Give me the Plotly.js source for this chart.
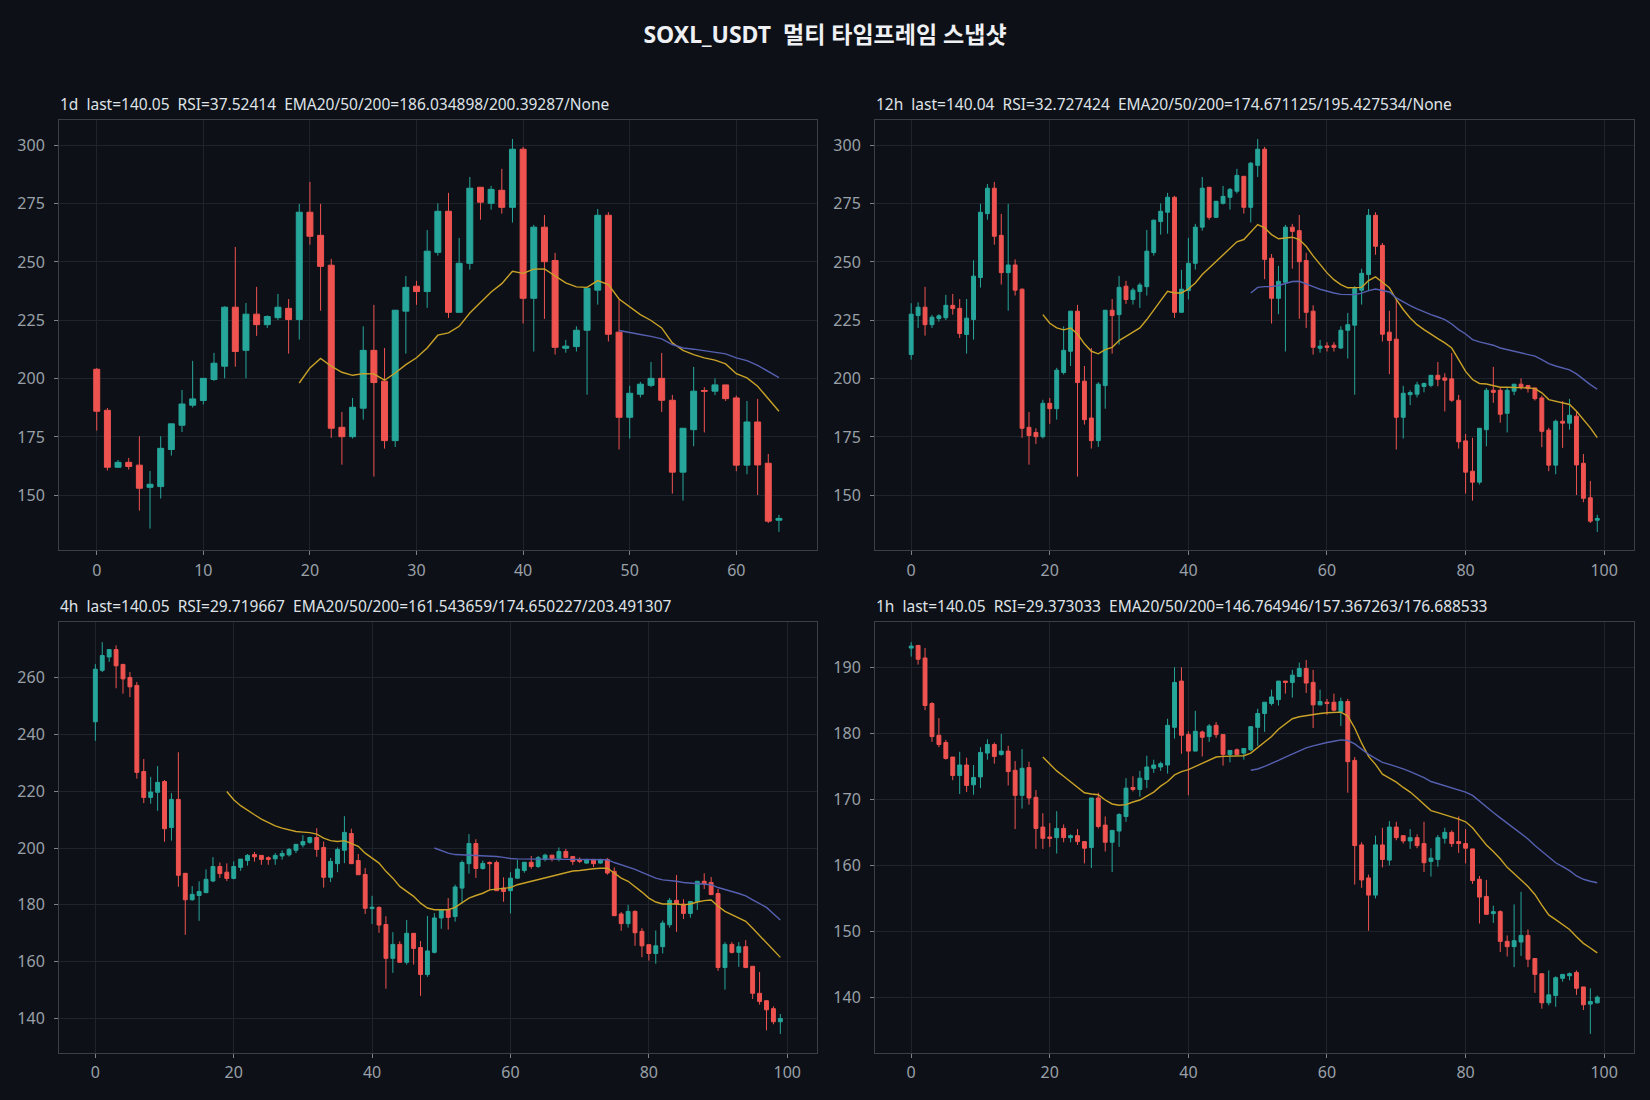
<!DOCTYPE html>
<html>
<head>
<meta charset="utf-8">
<script src="https://cdn.plot.ly/plotly-3.0.1.min.js"></script>
<style>
html,body{margin:0;padding:0;background:#0d1017;}
#chart{width:1650px;height:1100px;}
</style>
</head>
<body>
<div id="chart"></div>
<script>
// ---------------- DATA ----------------
const chartTitle = "SOXL_USDT  멀티 타임프레임 스냅샷";
const panelTitles = [
  "1d  last=140.05  RSI=37.52414  EMA20/50/200=186.034898/200.39287/None",
  "12h  last=140.04  RSI=32.727424  EMA20/50/200=174.671125/195.427534/None",
  "4h  last=140.05  RSI=29.719667  EMA20/50/200=161.543659/174.650227/203.491307",
  "1h  last=140.05  RSI=29.373033  EMA20/50/200=146.764946/157.367263/176.688533"
];
const ema20Start = 19;
const ema50Start = 49;

// 1d
const d1_open = [204,186.4,162,164.1,162.9,153.4,153.7,169.6,180,188.6,190.6,199.6,205.3,230.6,212.1,227.6,223.1,226.1,230.1,225.3,271.3,261.4,248.6,179.1,175.1,187.3,212.1,198.9,173.4,228.9,239.6,237.3,254.1,271.7,228.4,249.4,282,275.1,280.7,273.4,298.3,234.4,264.9,250.6,213.0,213.7,220.7,237.9,270,219.9,183.4,193.3,197.1,200.1,190.7,159.9,178.1,194.9,194.6,197.3,191.7,162.9,181.4,163.7,139.3];
const d1_high = [204.5,187.4,165.1,166,175.3,160.4,175.3,180.6,195.1,207.6,200.1,211,231,256.4,232.4,239.3,227.1,236.3,234.1,274.9,284.3,274.9,251.3,185.7,191.7,222.4,231.6,213.1,229.3,244,241.9,263.7,275.1,279.6,260.3,286.4,282,282.6,289.9,302.7,299.3,265.9,270.1,253.9,216.6,222.4,238.7,272.7,271.3,233.9,196.9,198.6,207.1,211,193,178.7,205,196.3,200.1,197.3,192.7,190.4,191.3,167.7,141.6];
const d1_low = [177.7,160.6,161.7,161,143.4,135.7,148.6,167,177.1,187.6,188.9,199,200.1,205.1,200.1,218.3,221.7,225.1,210.7,216.7,257.4,229.1,174.6,163.1,174.3,182.4,158,170,170.7,210.7,231.6,230.3,252.7,226,228.4,246.7,268.1,272.4,270.7,266.9,223.6,211.6,225.6,210.3,211.1,211.6,193.1,231.7,215.9,169.6,174.3,191.9,196.3,185.7,150.7,147.7,171,176.9,192.9,190.4,160.3,159,150.1,138.1,134.3];
const d1_close = [186,162,164.1,162.3,153,154.7,170.1,180.6,189.1,191.3,200.1,206.6,230.6,211.6,227.6,223.1,226.6,230.6,225.3,271.3,261,248.1,178.7,175.1,187.7,212.1,198.3,173.4,229.3,239.1,237.3,254.6,271.7,228.4,249.4,281.6,275.6,281.1,273.4,298.3,234.4,264.9,250.1,213.4,213.9,220.7,238.7,270,219,183.4,193.7,197.6,200.1,190.7,159.9,178.7,194.6,194.6,197.3,191.4,162.9,181.4,163,138.9,140.05];
const d1_ema20 = [198.1,204.6,208.6,205.3,202.7,201.4,202.1,202,199.3,202.4,206,208.9,213.1,218.6,219.6,222.4,228.1,232.4,237.1,240.7,246,245.1,246.9,247,243.9,241,239.3,239.1,242,240.3,234.1,230.6,227.4,224.9,221.7,215.3,212.1,210.3,208.9,207.9,206.3,202.1,200.3,196.7,191.3,186.03];
const d1_ema50 = [220.6,219.6,218.9,218.1,217,214.6,213.1,212.6,212,211.4,210.6,208.9,207.7,205.7,203.1,200.39];

// 12h
const h12_open = [210.3,227,230.6,223.1,225.7,226.1,231.4,230.1,218.9,225.3,243.3,270.7,281.6,261.4,245.4,248.7,238.3,179.1,176.9,175.1,189.4,187.1,202.6,211.7,228.9,198.9,183.1,173.4,197,229.3,227.4,239.6,233.9,237.3,239.4,254,267.3,271.3,277.7,228.4,237.7,249.4,264.9,282,269.1,275.1,277.7,280.3,286.7,273.4,291.4,298.3,251.6,234.4,241.3,264.9,263.4,250.6,228.9,213,214,214.3,213.1,220.7,222.9,237.9,244.6,270,257.1,219.9,216.9,183.4,193.1,193.3,196.6,197.1,201.4,200.3,199.9,190.7,173.3,160.3,155.6,178.1,195,195,185.1,194.6,197.6,197,196,191.7,177.9,162.9,181.7,180.9,183.9,163.7,148.9,139.3];
const h12_high = [232.3,232.7,239.3,227.3,227.6,235.9,236.3,234.1,234.1,250.7,274.9,283.4,284.3,270.6,274.9,251.1,238.7,185.7,178.7,190.9,191.7,204.6,222.4,228.9,231.6,205.4,213.1,198.4,229.3,234.1,244,241.9,238.9,241.1,263.7,268.1,275.1,279.6,278.3,246.6,260.3,266.3,286.4,282,276,282.6,281.7,289.9,286.7,292.9,302.7,299.3,253.4,248.3,265.9,266.3,270.1,253.9,231.4,216.6,215.6,215.6,222.4,228.1,239.6,247.1,272.7,271.3,258.1,229.1,233.9,196.9,195,198.6,198.3,201.4,207.1,202.3,211,193,176.3,174.6,178.7,196,205,196,196,197.6,200.1,197.3,196,192.7,178.9,182.4,190.4,191.3,186,167.7,156.1,141.6];
const h12_low = [208.1,221.7,218.4,221.7,224.4,225.1,227.4,217.4,210.7,216.7,239,268.1,257.4,240.3,229.1,235.6,174.6,163.1,172,174.3,180.6,182.4,201.7,205.4,158,180.3,170,170.7,187.1,210.7,214.6,232,231.7,230.3,235.6,252.7,261.7,262.1,226,228.4,233.9,246.7,263.4,268.1,268.9,274.6,272.4,279.3,270.7,266.9,286.4,242.6,223.6,227.6,211.6,247.1,225.6,221.7,210.3,211.1,211.6,211.6,212.7,208.6,193.1,231.7,237.4,253.1,215.9,201.9,169.6,174.3,188.6,191.9,194.1,196.3,196.7,185.9,190,170,150.7,147.7,154.6,171,189.6,181.1,176.9,192.9,195.3,194,190.6,170.6,160.3,159,170.3,178.1,150.1,147,138.1,134.3];
const h12_close = [227.6,230.6,223.1,226.3,226.9,231.4,230,219.3,225.9,243.9,271.3,281.6,261,245.4,248.7,237.9,178.7,175.6,175.1,189.4,187.1,203.6,212.1,228.9,198.3,182.4,173.4,197.6,229.3,227,239.1,233.9,237.9,240.1,254.6,267.9,271.7,277.7,228.4,238.3,249.4,264.9,281.6,269.1,276,278.1,281.1,287.1,273.4,292.3,298.3,251.1,234.4,241.7,264.9,263.1,250.1,228.4,213.4,213.9,213.4,213.4,220.7,223.1,238.7,245.1,270,256.7,219,216.3,183.4,193.7,194,197.3,197.9,201.4,199.7,199.3,190.7,172.9,159.9,155.6,178.7,195,194.1,184.7,195,197.6,196.4,195.7,191.4,177.4,162.9,181.7,180.9,184.3,163,148.7,138.9,140.04];
const h12_ema20 = [227.4,223.7,221.7,220.9,221.7,219.1,214.9,211.7,210.6,212.4,213.4,216.3,218.1,219.9,221.7,225.3,229.6,233.4,237.4,236.7,236.7,238.4,241,244.6,247.4,250.3,253.1,256,258.6,259.6,262.9,266,264.6,261.7,259.9,260.3,260.6,259.6,256.7,252.6,248.9,245.3,242.4,240.3,238.9,238.9,239.1,242,243.6,241.3,238.9,233.9,229.6,226,223.1,221,218.9,217.1,215.3,213.1,208.1,203.1,199.6,197.9,197.7,197.1,196.3,196.3,196.3,196.3,196,195.7,193.9,191,190.3,189.6,188.9,186,182.4,178.9,174.67];
const h12_ema50 = [236.7,239.1,239.4,239.4,239.9,240.9,241.6,241.7,240.7,239.4,238.3,237.4,236.7,236.1,235.9,236,236.6,237.7,238.4,237.8,237.1,234.6,232.9,231.3,229.9,228.6,227.4,226.4,225.3,223.4,221,219.1,216.7,215.7,215,214.3,213.1,212.4,211.9,211.3,210.6,209.6,208.1,206.4,205.4,204.6,203.7,202,199.6,197.4,195.43];

// 4h
const h4_open = [244.4,262.5,267.2,269.8,264.6,260,257.2,226.9,217.8,219.6,223.4,207.2,217.1,191.1,181.8,183.3,184.3,188.4,193.5,191.5,189.3,193.2,195.6,197.7,197.4,196.6,196.2,197.2,197.6,199.2,201.1,202,203.7,200.2,189.7,194.5,199.2,205.1,195.6,190.7,178.7,179.1,173.1,161.2,166.1,159.8,170,165,155.5,163.3,175.4,178.3,175.9,185.9,194.5,201.6,192.8,194.9,194.9,185.9,185,189.4,192.1,195,193.5,196,197.5,196.2,198.8,197,196,194.7,196,194.7,196,191.8,176.8,173.4,177.7,170.7,166,162.9,165.3,173,181.6,180.3,177,181.2,188.3,187.9,184,158,166.1,163.3,165.3,158.4,148.9,146.3,143.5,138.9];
const h4_high = [264.7,272.4,269.8,271.3,264.6,261.9,258.4,231.3,225,228.8,223.9,219.3,233.7,191.1,186.6,188.3,192.5,196.8,194.9,194.6,195.3,196.1,197.9,198.6,197.4,197.1,198.2,199.2,200,201.3,204.5,204,207,202.3,196.5,200.2,211.2,206.8,197.9,193,183.2,179.5,176,170.4,167.2,174.7,170,167.3,176.1,177.1,178.3,182.4,187.1,195.6,204.9,203.1,195.6,195.3,195.6,189.7,191.5,195.9,195,197.2,197.2,198,197.5,200.2,199.7,197,196.7,196.2,196,196.2,196.5,193.2,177.5,180,178.1,171.8,166,171,174.5,182.4,190.5,182,181.2,188.3,191.1,189.8,185.6,166.9,166.9,166.9,167.6,158.4,156.4,146.3,144.3,141.6];
const h4_low = [237.7,261.9,265.5,256.2,254.3,253.1,224.4,215.8,215.6,213.1,202.2,202.6,186.4,169.5,181.5,174.4,184.3,188,189.5,188.4,189,192,193.8,195.2,194.1,194.1,194.1,195.9,197,198.2,200.2,201.5,196.9,186.1,188,191.5,194.7,194.5,190.6,176.8,173.3,170.2,150.5,156.1,159.8,159,159,148,154.7,162.9,171.6,171.3,174.1,180.6,191,189.5,192.4,185.3,185,181.1,177,189.2,191.3,192.7,193,195.3,195.3,195.3,196.7,194.1,194.7,194.5,193.3,194.5,190.6,176.2,170.9,172,165.6,161.6,160.4,159.3,162.9,172,170.5,175,175.5,178.2,185.6,183.6,156.8,150.2,162.9,158.2,157.7,146.9,144.9,135.9,138,134.6];
const h4_close = [262.9,267.7,269.8,264.1,259.5,256.7,226.6,217.8,219.7,223.1,206.8,217.1,190.4,181.8,183.7,184.7,189,193.5,191,189.3,193.5,196.1,197.4,196.9,196,196,197.4,198.1,199.5,201.3,202.3,203.7,199.5,189.7,195.3,199.5,205.5,194.5,190.6,178.8,179.2,172.9,161.2,166.1,159.8,170,164.7,155.5,163.8,175.4,178.3,175.6,186.3,194.9,201.6,192.8,194.6,194.5,185,184.7,189.4,192.6,195,193.5,196.6,197.5,196.2,198.8,196.7,195.3,195.3,196,194.5,196,191.2,176.2,173.4,177.7,170.2,165.6,162.9,165.6,173.6,181.6,180.3,177,181.2,188.3,187.5,183.6,158,166.1,163.3,165.3,158,148.9,146,143.1,138.9,140.05];
const h4_ema20 = [219.9,217,214.9,213.2,211.7,210.2,208.9,207.8,207,206.3,205.8,205.6,205.4,204.9,203.5,202.6,202.3,202.6,201.6,200.6,198.2,196.5,194.7,191.8,189.4,186.5,184.7,183,180.6,178.9,178.3,178.2,178.3,179.1,180.6,182.4,183.3,184.1,185.3,185.6,185.9,186.1,187.1,187.7,188.3,189.1,189.7,190.2,190.9,191.5,191.9,192.1,192.5,192.7,192.9,192.9,191.2,189.4,188.3,186.5,184.5,182.4,181,180.3,180.3,180.3,180,180.3,181,181.5,181.7,179.5,177.7,176.5,175.4,174.2,171.8,169.3,166.6,164.1,161.54];
const h4_ema50 = [200,199.2,198.2,197.7,197.6,197.6,197.5,197.4,197.3,197,196.7,196.3,196.2,196.1,196.1,196.1,196.1,196.1,196.1,196.1,196.1,196,196,196,196,195.9,194.9,194.1,193.4,192.5,191.4,190.4,189.4,188.8,188.6,188.3,187.9,187.7,187.7,187.4,187.1,186.1,185.3,184.7,184,183.2,181.8,180.4,179.1,176.9,174.65];

// 1h
const h1_open = [192.9,193.3,191.4,184.5,179.7,178.6,176.4,173.6,175.2,172.2,173.4,177,178.3,176.8,177.3,174.4,170.6,174.8,170.3,165.8,164.3,164.2,165.6,164.2,164.5,163.6,162.7,170.2,166.1,163.5,165.2,167.4,171.8,171.5,173,174.7,174.9,175.2,180.9,187.9,179.8,177.3,180.2,179.5,181.2,179.8,176.8,177.5,177,177.5,180.9,183,184.5,185.1,187.9,187.7,188.6,189.8,187.7,184.3,184.7,184.7,183.3,184.8,175.9,163.1,158.1,155.5,163.1,160.8,165.8,164.5,163.7,164.2,163.3,160.6,160.9,164.1,165,163.6,163.3,162.5,157.9,155.3,152.7,153,148.5,147.7,148.4,149.4,145.9,143.6,139.2,140.3,142.9,143.3,143.8,141.6,139,139.2];
const h1_high = [193.8,193.3,192.9,184.7,182.3,179,176.4,177.2,176.3,175.2,177.9,179.1,178.6,179.9,178.1,175.8,177.6,175.7,171.4,167.9,166.4,168.2,166.2,164.7,165.5,163.6,170.2,171,167.4,165.3,167.9,173.2,173.5,174.3,176.6,176,175.7,182.2,190,190,180.3,183.4,180.4,181.4,181.7,179.8,177.4,177.7,177.7,181,183.7,184.7,186.6,187.9,187.9,189.6,190.7,191.1,189.6,186.6,185.2,186,185.4,185.2,176.4,163.5,158.6,164.5,165.7,166.7,166.6,164.5,165.5,164.7,166.6,162.6,164.6,165.7,165.3,167.4,165.5,162.5,158.4,157.8,153.9,153.2,149.4,154.1,156,150.3,145.9,143.6,144.1,143.2,143.5,143.8,144.1,141.6,141.4,140.3];
const h1_low = [191.6,190.4,183.5,178.7,177.9,176,172.9,170.8,171.1,170.7,171.7,176,175.4,176.6,172.1,165.5,168.6,169.2,162.5,162.5,162.8,161.8,163.5,163.5,163.1,160.3,159.6,165.6,162.1,159,162.8,166.6,171.2,170.4,171.7,174,174.3,173.9,179.2,176.9,170.6,177.3,176.5,178.7,179.3,175.1,175.6,176.7,176,177.3,178.1,180.2,184.2,184.2,186,185.4,188.5,186.1,180.8,184.2,182.8,183.3,181.1,171,157.1,156.6,150.1,155,159.7,160,163.8,163.3,162.5,162.6,159,158.3,159.8,163.3,162.8,161.9,160.3,157.2,151.2,152.5,151.3,146.9,146.2,144.6,146.3,144.6,140.7,138.3,138.8,138.6,142.4,142.6,140.4,138.1,134.5,139.1];
const h1_close = [193.2,191.2,184.2,179.5,178.3,176.2,173.6,175.2,172.1,173.3,177.1,178.3,176.5,177.3,174.2,170.6,174.7,170.2,165.6,164.1,164.1,165.6,164.2,164.5,163.6,162.6,170.2,165.9,163.5,165.3,167.7,171.7,171.5,173.2,174.9,175.2,175.4,181.2,187.7,179.7,177.3,180.3,179.4,181.1,179.8,176.8,177.4,176.8,177.7,181,183,184.7,185.5,187.9,187.7,188.8,189.8,187.6,184.3,184.8,184.5,183.5,184.8,175.7,163,157.8,155.5,163.1,160.9,165.8,164.2,163.7,164.2,163,160.4,161.1,164.2,165,163.3,163.3,162.6,157.7,155.2,152.6,153,148.5,147.7,148.6,149.4,145.8,143.5,139.2,140.4,143,143.5,143.6,141.4,138.9,139.4,140.05];
const h1_ema20 = [176.4,175.3,174.3,173.5,172.7,171.9,171,170.8,170.7,169.9,169.3,169.1,169.2,169.6,169.9,170.5,171.1,172,172.7,173.7,174.2,174.5,175,175.5,176,176.4,176.5,176.5,176.6,176.6,177,177.8,178.6,179.5,180.6,181.4,182.2,182.5,182.7,182.8,183,183.1,183.1,183.2,182.6,180.8,178.5,176.5,175.3,173.8,173.2,172.6,171.8,171.1,170.2,169.2,168.3,168,167.7,167.3,167,166.6,165.7,164.4,163.1,162.1,161,159.7,158.8,157.8,156.8,155.6,154,152.5,151.8,151,150.3,149.2,148.2,147.5,146.76];
const h1_ema50 = [174.4,174.6,175,175.4,175.9,176.4,176.9,177.4,177.8,178.1,178.4,178.6,178.8,179,178.9,178.4,177.6,176.8,176.2,175.6,175.3,175,174.6,174.2,173.8,173.3,172.7,172.4,172.1,171.8,171.5,171.1,170.6,169.7,168.8,168,167.2,166.4,165.7,164.9,164,163,162.1,161.2,160.4,159.8,159.2,158.4,157.9,157.6,157.37];

// tick values per panel
const ticksY = [[150,175,200,225,250,275,300],[150,175,200,225,250,275,300],[140,160,180,200,220,240,260],[140,150,160,170,180,190]];
const ticksX = [[0,10,20,30,40,50,60],[0,20,40,60,80,100],[0,20,40,60,80,100],[0,20,40,60,80,100]];

// ---------------- STYLE ----------------
const BG = '#0d1017';
const GRID = '#1f232b';
const FRAME = '#3a3f48';
const TICKC = '#9aa0a8';
const UP = '#26a69a';
const DOWN = '#ef5350';
const EMA20C = '#c9a227';
const EMA50C = '#5560b0';
const FONT = '"Noto Sans", "Noto Sans CJK KR", sans-serif';

const panels = [
  {o:d1_open,h:d1_high,l:d1_low,c:d1_close,e20:d1_ema20,e50:d1_ema50, xr:[-3.54,67.57], yr:[126.4,310.7]},
  {o:h12_open,h:h12_high,l:h12_low,c:h12_close,e20:h12_ema20,e50:h12_ema50, xr:[-5.22,104.3], yr:[126.4,310.7]},
  {o:h4_open,h:h4_high,l:h4_low,c:h4_close,e20:h4_ema20,e50:h4_ema50, xr:[-5.25,104.3], yr:[127.9,279.4]},
  {o:h1_open,h:h1_high,l:h1_low,c:h1_close,e20:h1_ema20,e50:h1_ema50, xr:[-5.22,104.3], yr:[131.6,196.8]}
];

const W = 1650, H = 1100;
const xDom = [[59/W, 817/W],[875/W, 1634/W],[59/W, 817/W],[875/W, 1634/W]];
const yDom = [[(H-550.3)/H,(H-120.3)/H],[(H-550.3)/H,(H-120.3)/H],[(H-1053)/H,(H-622.3)/H],[(H-1053)/H,(H-622.3)/H]];
const titleY = [(H-104)/H,(H-104)/H,(H-606)/H,(H-606)/H];

const traces = [];
const layout = {
  width: W, height: H,
  paper_bgcolor: BG, plot_bgcolor: BG,
  margin: {l:0,r:0,t:0,b:0},
  showlegend: false,
  boxgap: 0.2,
  font: {family: FONT, color: TICKC, size: 14},
  title: {text: '<b>' + chartTitle.replace(/  /g,' \u00a0') + '</b>', x: 0.5, xanchor: 'center', y: 1 - 35/H, yanchor: 'middle', font: {family: FONT, size: 23, color: '#eef0f3'}},
  annotations: []
};

function idx(n, start){ const a=[]; for(let i=0;i<n;i++) a.push(start+i); return a; }

panels.forEach((p, k) => {
  const xa = k===0 ? 'x' : 'x'+(k+1);
  const ya = k===0 ? 'y' : 'y'+(k+1);
  traces.push({
    type: 'candlestick', xaxis: xa, yaxis: ya,
    x: idx(p.o.length, 0), open: p.o, high: p.h, low: p.l, close: p.c,
    increasing: {line: {color: UP, width: 1}, fillcolor: UP},
    decreasing: {line: {color: DOWN, width: 1}, fillcolor: DOWN},
    whiskerwidth: 0, hoverinfo: 'skip'
  });
  traces.push({type:'scatter', mode:'lines', xaxis: xa, yaxis: ya, x: idx(p.e20.length, ema20Start), y: p.e20, line:{color:EMA20C, width:1.4}, hoverinfo:'skip'});
  traces.push({type:'scatter', mode:'lines', xaxis: xa, yaxis: ya, x: idx(p.e50.length, ema50Start), y: p.e50, line:{color:EMA50C, width:1.4}, hoverinfo:'skip'});

  const axCommon = {
    showgrid: true, gridcolor: GRID, gridwidth: 1, zeroline: false,
    showline: true, linecolor: FRAME, linewidth: 1, mirror: true,
    ticks: 'outside', ticklen: 4, tickcolor: '#7d828a', tickwidth: 1,
    tickfont: {family: FONT, size: 16, color: TICKC}
  };
  layout['xaxis' + (k===0?'':(k+1))] = Object.assign({}, axCommon, {
    domain: xDom[k], anchor: ya, range: p.xr, autorange: false,
    tickmode: 'array', tickvals: ticksX[k], ticktext: ticksX[k].map(String),
    rangeslider: {visible: false}, ticklabelstandoff: 1
  });
  layout['yaxis' + (k===0?'':(k+1))] = Object.assign({}, axCommon, {
    domain: yDom[k], anchor: xa, range: p.yr, autorange: false,
    tickmode: 'array', tickvals: ticksY[k], ticktext: ticksY[k].map(String),
    ticklabelstandoff: 6
  });
  layout.annotations.push({
    xref: 'paper', yref: 'paper', x: xDom[k][0] - 1/W, y: titleY[k],
    xanchor: 'left', yanchor: 'middle', showarrow: false,
    text: panelTitles[k].replace(/  /g, ' \u00a0'),
    font: {family: FONT, size: 15.5, color: '#dfe2e6'}
  });
});

Plotly.newPlot('chart', traces, layout, {staticPlot: true, displayModeBar: false});
</script>
</body>
</html>
